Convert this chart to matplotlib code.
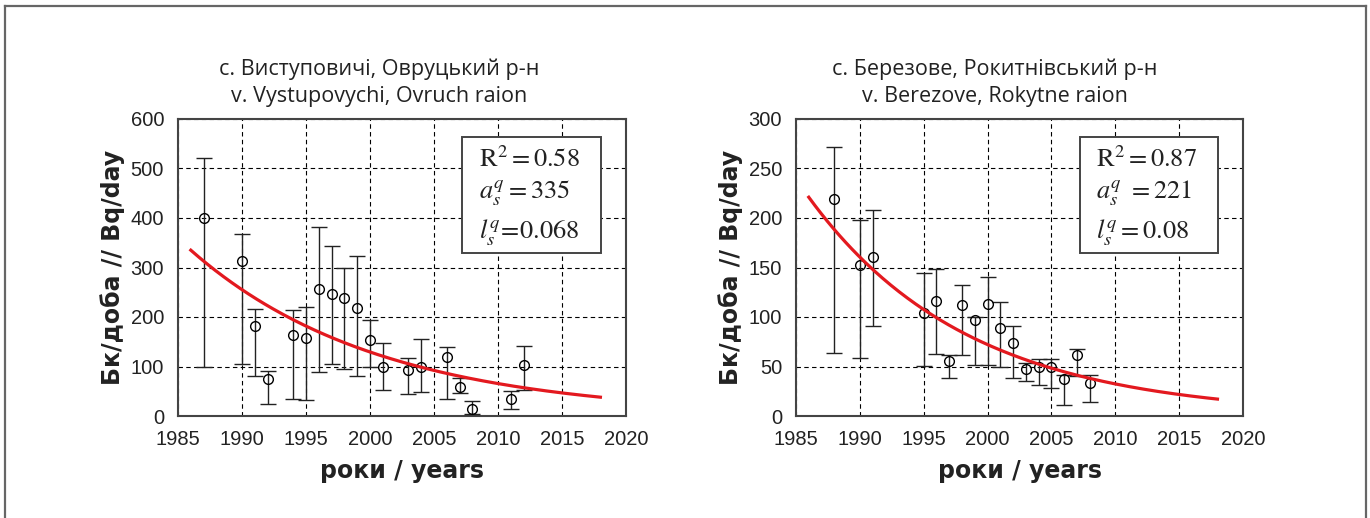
import numpy as np
import matplotlib
matplotlib.use('Agg')
import matplotlib.pyplot as plt
from matplotlib.lines import Line2D
from matplotlib.patches import Rectangle

plt.rcParams['mathtext.fontset'] = 'stix'

# left panel: v. Vystupovychi
years1 = [1987, 1990, 1991, 1992, 1994, 1995, 1996, 1997, 1998, 1999,
          2000, 2001, 2003, 2004, 2006, 2007, 2008, 2011, 2012]
val1 = [400, 314, 182, 74, 164, 157, 256, 246, 239, 219,
        154, 100, 92, 100, 119, 59, 14, 34, 103]
hi1 = [521, 368, 216, 91, 214, 221, 382, 344, 298, 323,
       193, 148, 118, 156, 140, 76, 30, 51, 142]
lo1 = [98, 106, 81, 24, 34, 32, 88, 106, 94, 80,
       98, 53, 44, 48, 34, 46, 4, 14, 53]
a1, l1 = 335, 0.068

# right panel: v. Berezove
years2 = [1988, 1990, 1991, 1995, 1996, 1997, 1998, 1999, 2000, 2001,
          2002, 2003, 2004, 2005, 2006, 2007, 2008]
val2 = [219, 153, 161, 104, 116, 56, 112, 97, 113, 89,
        74, 47, 50, 50, 37, 62, 33]
hi2 = [272, 198, 208, 144, 148, 62, 132, 100, 140, 115,
       91, 54, 58, 58, 41, 68, 41]
lo2 = [64, 59, 91, 51, 63, 38, 62, 52, 52, 49,
       38, 35, 31, 28, 11, 40, 14]
a2, l2 = 221, 0.08

t0, t1 = 1986, 2018
xticks = [1985, 1990, 1995, 2000, 2005, 2010, 2015, 2020]

tick_font = ['Liberation Sans Narrow', 'Liberation Sans', 'DejaVu Sans']
title_font = ['Open Sans', 'DejaVu Sans']
label_font = ['DejaVu Sans']

fig = plt.figure(figsize=(13.7, 5.18), dpi=100, facecolor='white')

# outer frame
fx0, fx1, fy = 4.5/1370, 1366/1370, 1 - 5.5/518
for xs, ys in [([fx0, fx0], [0, fy]), ([fx0, fx1], [fy, fy]), ([fx1, fx1], [0, fy])]:
    fig.add_artist(Line2D(xs, ys, transform=fig.transFigure, color='#666666', lw=1.6))


def panel(rect, years, val, lo, hi, a, l, ymax, ystep, title, stats, title_x):
    ax = fig.add_axes(rect)
    ax.set_xlim(1985, 2020)
    ax.set_ylim(0, ymax)
    ax.set_xticks(xticks)
    ax.set_yticks(np.arange(0, ymax + 1, ystep))
    ax.grid(True, color='black', linestyle=(0, (4, 3)), linewidth=0.8)
    ax.tick_params(length=0, labelsize=14.5, pad=10)
    for lab in ax.get_xticklabels() + ax.get_yticklabels():
        lab.set_family(tick_font)
        lab.set_color('#222222')
    for s in ax.spines.values():
        s.set_color('#444444')
        s.set_linewidth(1.5)

    val = np.array(val)
    yerr = [val - np.array(lo), np.array(hi) - val]
    ax.errorbar(years, val, yerr=yerr, fmt='o', mfc='none', mec='black', ms=7, mew=1,
                ecolor='#222222', elinewidth=1, capsize=6, capthick=1, zorder=3)

    t = np.linspace(t0, t1, 200)
    ax.plot(t, a * np.exp(-l * (t - t0)), color='#e3191f', lw=2.3, zorder=4)

    ax.set_xlabel('роки / years', family=label_font, fontsize=17, fontweight='bold',
                  color='#222222', labelpad=7)
    ax.set_ylabel('Бк/доба // Bq/day', family=label_font, fontsize=17, fontweight='bold',
                  color='#222222', labelpad=4)

    ax.add_patch(Rectangle((0.635, 0.55), 0.309, 0.39, transform=ax.transAxes,
                           facecolor='white', edgecolor='#444444', lw=1.4, zorder=5))
    for txt, yy in zip(stats, [0.862, 0.748, 0.617]):
        ax.text(0.672, yy, txt, transform=ax.transAxes, fontsize=19, va='center',
                ha='left', color='#222222', zorder=6)

    fig.text(title_x, 1 - 83/518, title, family=title_font, fontsize=15.5,
             ha='center', va='center', color='#222222', linespacing=1.35)
    return ax


panel([178/1370, 1 - 416/518, 448/1370, 297/518], years1, val1, lo1, hi1, a1, l1,
      600, 100, 'с. Виступовичі, Овруцький р-н\nv. Vystupovychi, Ovruch raion',
      [r'$\mathrm{R}^2 = 0.58$', r'$a_s^q = 335$', r'$l_s^q\!=\!0.068$'], 379/1370)

panel([796/1370, 1 - 416/518, 447/1370, 297/518], years2, val2, lo2, hi2, a2, l2,
      300, 50, 'с. Березове, Рокитнівський р-н\nv. Berezove, Rokytne raion',
      [r'$\mathrm{R}^2 = 0.87$', r'$a_s^q\ =221$', r'$l_s^q = 0.08$'], 995/1370)

fig.savefig('out.png', dpi=100, facecolor='white')
